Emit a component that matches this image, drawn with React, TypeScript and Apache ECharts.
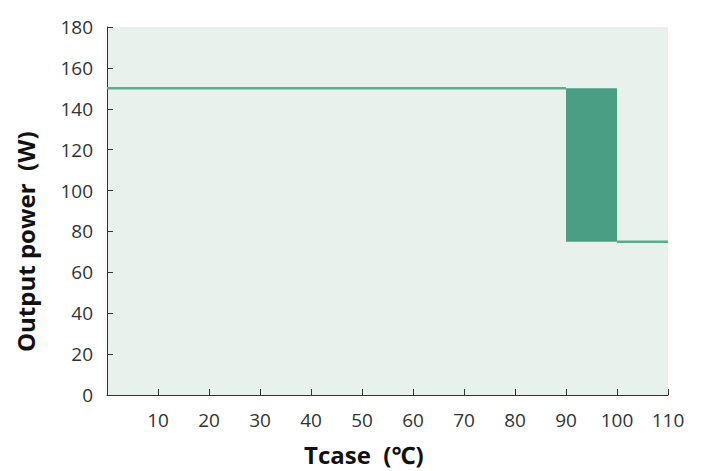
import React, { useEffect, useRef } from "react";
import * as echarts from "echarts";

const highSegment: [number, number][] = [[0, 150], [90, 150]];
const lowSegment: [number, number][] = [[100, 75], [110, 75]];
const bandX: [number, number] = [90, 100];
const bandY: [number, number] = [75, 150];
const xTicks = [10, 20, 30, 40, 50, 60, 70, 80, 90, 100, 110];
const yTicks = [0, 20, 40, 60, 80, 100, 120, 140, 160, 180];
const xTitle = "Tcase  (\u2103)";
const yTitle = "Output power  (W)";

export default function App() {
  const ref = useRef<HTMLDivElement>(null);
  useEffect(() => {
    if (!ref.current) return;
    const chart = echarts.init(ref.current, undefined, { renderer: "svg" });
    const font = "'Open Sans', 'Noto Sans', sans-serif";
    const lineColor = "#5aad8d";
    chart.setOption({
      animation: false,
      backgroundColor: "#ffffff",
      grid: {
        left: 107, top: 27, right: 37, bottom: 76,
        show: true, backgroundColor: "#e9f1ed", borderWidth: 0,
      },
      xAxis: {
        type: "value", min: 0, max: 110, interval: 10,
        axisLine: { show: true, lineStyle: { color: "#333", width: 1 } },
        axisTick: { show: true, inside: true, length: 6, lineStyle: { color: "#333" } },
        splitLine: { show: false },
        axisLabel: {
          color: "#333", fontSize: 19, fontFamily: font, margin: 15,
          formatter: (v: number) => (xTicks.includes(v) ? String(v) : ""),
        },
      },
      yAxis: {
        type: "value", min: 0, max: 180, interval: 20,
        axisLine: { show: true, lineStyle: { color: "#333", width: 1 } },
        axisTick: { show: true, inside: true, length: 6, lineStyle: { color: "#333" } },
        splitLine: { show: false },
        axisLabel: {
          color: "#333", fontSize: 19, fontFamily: font, margin: 14,
          formatter: (v: number) => (yTicks.includes(v) ? String(v) : ""),
        },
      },
      series: [
        {
          type: "line", data: highSegment, symbol: "none",
          lineStyle: { color: lineColor, width: 2.5 },
          markArea: {
            silent: true,
            itemStyle: { color: "#4a9e84", opacity: 1 },
            data: [[{ coord: [bandX[0], bandY[0]] }, { coord: [bandX[1], bandY[1]] }]],
          },
        },
        {
          type: "line", data: lowSegment, symbol: "none",
          lineStyle: { color: lineColor, width: 2.5 },
        },
      ],
      graphic: [
        {
          type: "text", left: 304, top: 442,
          style: { text: xTitle, fontSize: 24, fontWeight: "bold", fontFamily: font, fill: "#111" },
        },
        {
          type: "text", x: 13, y: 352, rotation: Math.PI / 2,
          style: { text: yTitle, fontSize: 24, fontWeight: "bold", fontFamily: font, fill: "#111" },
        },
      ],
    });
    return () => chart.dispose();
  }, []);
  return <div ref={ref} style={{ position: "fixed", left: 0, top: 0, width: 705, height: 471 }} />;
}
